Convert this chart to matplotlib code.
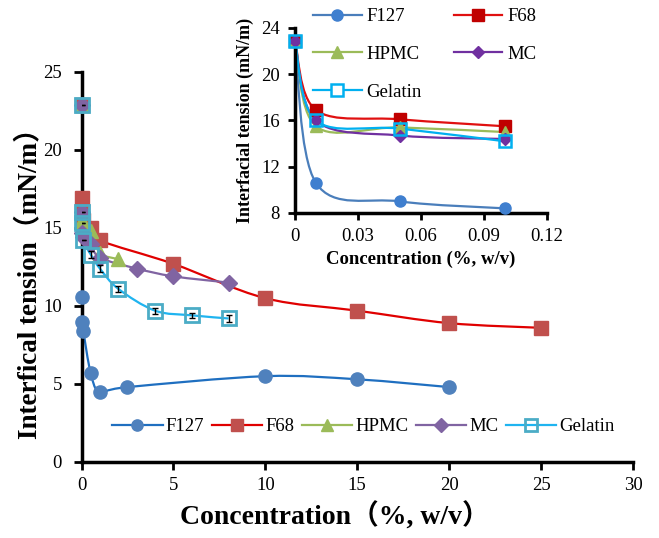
import numpy as np
import matplotlib
matplotlib.use("Agg")
import matplotlib.pyplot as plt
from matplotlib.path import Path
from matplotlib.patches import PathPatch
from matplotlib.lines import Line2D

plt.rcParams['font.family'] = ['Liberation Serif', 'Noto Sans CJK SC']

# data (interfacial tension, mN/m)
f127_x = [0, 0.01, 0.05, 0.1, 0.5, 1, 2.5, 10, 15, 20]
f127_y = [22.9, 10.6, 9.0, 8.4, 5.7, 4.5, 4.8, 5.5, 5.3, 4.8]

f68_x = [0, 0.01, 0.05, 0.1, 0.5, 1, 5, 10, 15, 20, 25]
f68_y = [22.9, 16.9, 16.1, 15.5, 15.0, 14.2, 12.7, 10.5, 9.7, 8.9, 8.6]

hpmc_x = [0, 0.01, 0.05, 0.1, 0.5, 1, 2]
hpmc_y = [22.9, 15.5, 15.4, 15.0, 14.8, 13.4, 13.0]

mc_x = [0, 0.01, 0.05, 0.1, 0.5, 1, 3, 5, 8]
mc_y = [22.9, 16.0, 14.7, 14.4, 14.0, 13.1, 12.4, 11.9, 11.5]

gel_x = [0, 0.01, 0.05, 0.1, 0.5, 1, 2, 4, 6, 8]
gel_y = [22.9, 16.0, 15.3, 14.2, 13.3, 12.4, 11.1, 9.7, 9.4, 9.2]
gel_err = [0, 0, 0, 0, 0.2, 0.2, 0.2, 0.2, 0.15, 0.2]

names = ["F127", "F68", "HPMC", "MC", "Gelatin"]


def smooth_path(x, y):
    # excel style smoothed line: catmull-rom as cubic bezier
    p = np.column_stack([x, y]).astype(float)
    n = len(p)
    verts = [p[0]]
    codes = [Path.MOVETO]
    for i in range(n - 1):
        p0 = p[i - 1] if i > 0 else p[i]
        p3 = p[i + 2] if i + 2 < n else p[i + 1]
        c1 = p[i] + (p[i + 1] - p0) / 6.0
        c2 = p[i + 1] - (p3 - p[i]) / 6.0
        verts += [c1, c2, p[i + 1]]
        codes += [Path.CURVE4] * 3
    return Path(verts, codes)


def draw(ax, x, y, color, marker, ms, mfc, mec, lw, mew=1):
    ax.add_patch(PathPatch(smooth_path(x, y), fill=False, edgecolor=color,
                           lw=lw, zorder=2))
    ax.plot(x, y, linestyle='none', marker=marker, ms=ms, mfc=mfc, mec=mec,
            mew=mew, zorder=3, clip_on=False)


fig = plt.figure(figsize=(6.59, 5.38), dpi=100)
ax = fig.add_axes([0.1237, 0.1413, 0.8368, 0.7249])

# main chart
main_style = [
    (f127_x, f127_y, 'o', 9.5, '#4F81BD', '#4F81BD', 1),
    (f68_x, f68_y, 's', 10, '#C0504D', '#C0504D', 1),
    (hpmc_x, hpmc_y, '^', 10, '#9BBB59', '#9BBB59', 1),
    (mc_x, mc_y, 'D', 8, '#8064A2', '#8064A2', 1),
    (gel_x, gel_y, 's', 10, 'none', '#4BACC6', 2),
]
main_line = ['#1F6FC0', '#E00000', '#9BBB59', '#8064A2', '#1FB4F0']
handles = []
for (x, y, m, ms, fc, ec, mew), lc, nm in zip(main_style, main_line, names):
    draw(ax, x, y, lc, m, ms, fc, ec, 1.6, mew)
    handles.append(Line2D([], [], color=lc, lw=1.6, marker=m, ms=ms * 0.85,
                          mfc=fc, mec=ec, mew=mew, label=nm))
ax.errorbar(gel_x, gel_y, yerr=gel_err, fmt='none', ecolor='black',
            elinewidth=1, capsize=2, zorder=4)

ax.set_xlim(0, 30)
ax.set_ylim(0, 25)
ax.set_xticks(range(0, 31, 5))
ax.set_yticks(range(0, 26, 5))
for s in ['top', 'right']:
    ax.spines[s].set_visible(False)
for s in ['left', 'bottom']:
    ax.spines[s].set_linewidth(2.5)
ax.tick_params(direction='out', length=6, width=2, labelsize=13.5)
ax.tick_params(axis='x', pad=5)
ax.tick_params(axis='y', pad=8)
ax.set_xlabel("Concentration（%, w/v）", fontsize=20, fontweight='bold')
ax.set_ylabel("Interfical tension（mN/m）", fontsize=19.5, fontweight='bold')
ax.xaxis.set_label_coords(0.46, -0.105)
ax.yaxis.set_label_coords(-0.072, 0.475)
ax.legend(handles=handles, loc='center left', ncol=5, frameon=False,
          fontsize=13.5, handlelength=2.7, handletextpad=0.15,
          columnspacing=0.4, bbox_to_anchor=(0.025, 0.09))

# inset, first 0.1 %
ins = fig.add_axes([0.4476, 0.6041, 0.3824, 0.3439])
ins.patch.set_alpha(0)
inset_style = [
    (f127_x[:4], f127_y[:4], '#4A7EBB', 'o', 8, '#3F7FCF', '#3F7FCF', 1),
    (f68_x[:4], f68_y[:4], '#E01010', 's', 8, '#C00000', '#C00000', 1),
    (hpmc_x[:4], hpmc_y[:4], '#9BBB59', '^', 8, '#9BBB59', '#9BBB59', 1),
    (mc_x[:4], mc_y[:4], '#7030A0', 'D', 6.5, '#7030A0', '#7030A0', 1),
    (gel_x[:4], gel_y[:4], '#00B0F0', 's', 8, 'none', '#00B0F0', 1.8),
]
ihandles = []
for (x, y, c, m, ms, fc, ec, mew), nm in zip(inset_style, names):
    draw(ins, x, y, c, m, ms, fc, ec, 1.6, mew)
    ihandles.append(Line2D([], [], color=c, lw=1.6, marker=m, ms=ms,
                           mfc='white' if fc == 'none' else fc, mec=ec,
                           mew=mew, label=nm))
ins.set_xlim(0, 0.12)
ins.set_ylim(8, 24)
ins.set_xticks([0, 0.03, 0.06, 0.09, 0.12])
ins.set_xticklabels(["0", "0.03", "0.06", "0.09", "0.12"])
ins.set_yticks([8, 12, 16, 20, 24])
for s in ['top', 'right']:
    ins.spines[s].set_visible(False)
for s in ['left', 'bottom']:
    ins.spines[s].set_linewidth(2.5)
ins.tick_params(direction='out', length=5, width=2, labelsize=13.5, pad=6)
ins.set_xlabel("Concentration (%, w/v)", fontsize=13.5, fontweight='bold',
               labelpad=4)
ins.set_ylabel("Interfacial tension (mN/m)", fontsize=13, fontweight='bold',
               labelpad=5)
# legend filled row by row: F127 F68 / HPMC MC / Gelatin
order = [0, 2, 4, 1, 3]
fig.legend(handles=[ihandles[i] for i in order], loc='upper left', ncol=2,
           frameon=False, fontsize=13.5, handlelength=2.6,
           handletextpad=0.25, columnspacing=1.7, labelspacing=1.1,
           borderpad=0, borderaxespad=0,
           bbox_to_anchor=(313 / 659, 1 - 8 / 538))

fig.savefig("out.png", dpi=100)
